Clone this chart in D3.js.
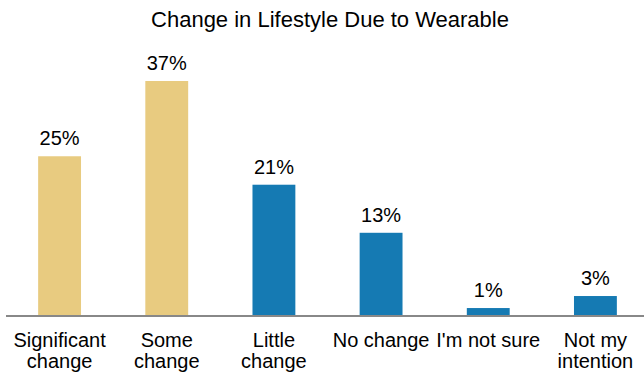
<!DOCTYPE html>
<html>
<head>
<meta charset="utf-8">
<script src="https://cdn.jsdelivr.net/npm/d3@7"></script>
<style>
  body { margin: 0; background: #fff; }
  text { font-family: "Liberation Sans", Arial, sans-serif; fill: #000; }
</style>
</head>
<body>
<div id="chart"></div>
<script>
// Chart data
const categories = ["Significant change", "Some change", "Little change", "No change", "I'm not sure", "Not my intention"];
const labelLines = [["Significant", "change"], ["Some", "change"], ["Little", "change"], ["No change"], ["I'm not sure"], ["Not my", "intention"]];
const values = [25.1, 37, 20.6, 13, 1.1, 3];
const colors = ["#e8cb80", "#e8cb80", "#157ab3", "#157ab3", "#157ab3", "#157ab3"];
const title = "Change in Lifestyle Due to Wearable";

const width = 644, height = 374;
const baseline = 315;

const svg = d3.select("#chart")
    .append("svg")
    .attr("width", width)
    .attr("height", height);

const x = d3.scaleBand()
    .domain(categories)
    .range([6, 649])
    .paddingInner(0.6)
    .paddingOuter(0.3);

const y = d3.scaleLinear()
    .domain([0, 37])
    .range([baseline, 81]);

// Title
svg.append("text")
    .attr("x", 330)
    .attr("y", 27)
    .attr("text-anchor", "middle")
    .style("font-size", "22px")
    .text(title);

// Bars
svg.selectAll("rect.bar")
    .data(values)
    .join("rect")
    .attr("class", "bar")
    .attr("x", (d, i) => x(categories[i]))
    .attr("y", d => y(d))
    .attr("width", x.bandwidth())
    .attr("height", d => y(0) - y(d))
    .attr("fill", (d, i) => colors[i]);

// Value labels
svg.selectAll("text.value")
    .data(values)
    .join("text")
    .attr("class", "value")
    .attr("x", (d, i) => x(categories[i]) + x.bandwidth() / 2)
    .attr("y", d => y(d) - 11)
    .attr("text-anchor", "middle")
    .style("font-size", "20px")
    .text(d => Math.round(d) + "%");

// Baseline axis
const xAxis = svg.append("g")
    .attr("transform", `translate(0,${baseline + 1})`)
    .call(d3.axisBottom(x).tickSize(0).tickFormat(""));
xAxis.select(".domain")
    .attr("d", `M6,0H${width}`)
    .attr("stroke", "#888")
    .attr("stroke-width", 2);

// Category labels (wrapped)
const catLabels = svg.selectAll("text.cat")
    .data(categories)
    .join("text")
    .attr("class", "cat")
    .attr("x", d => x(d) + x.bandwidth() / 2)
    .attr("y", 346.5)
    .attr("text-anchor", "middle")
    .style("font-size", "20px");

catLabels.each(function(d, i) {
    d3.select(this).selectAll("tspan")
        .data(labelLines[i])
        .join("tspan")
        .attr("x", x(d) + x.bandwidth() / 2)
        .attr("dy", (t, j) => j === 0 ? 0 : 21.5)
        .text(t => t);
});
</script>
</body>
</html>
